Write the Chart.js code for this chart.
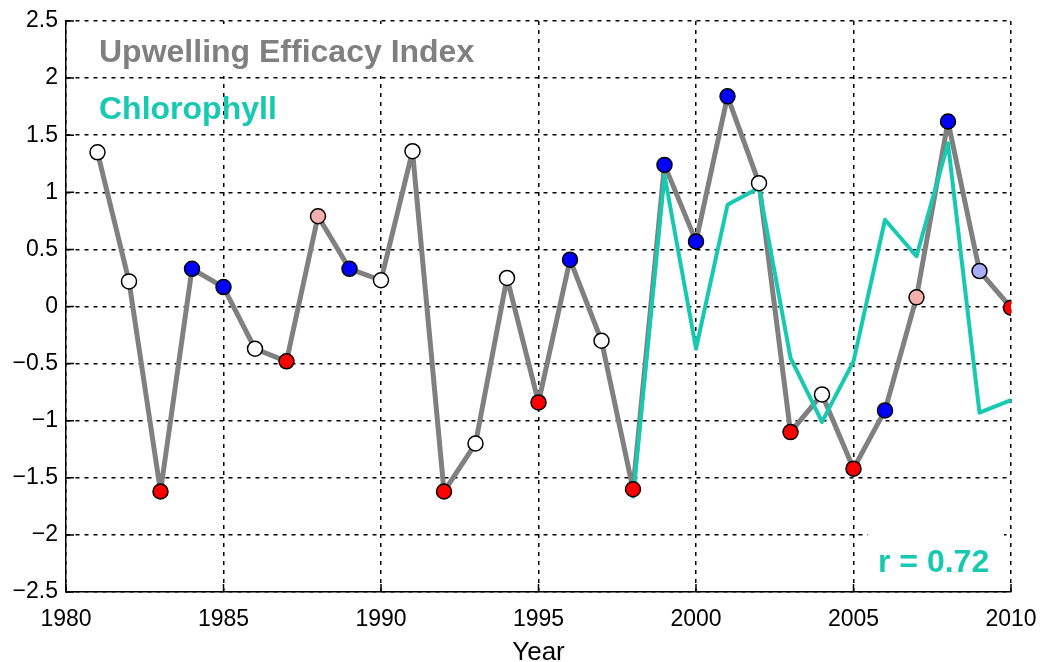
<!DOCTYPE html>
<html>
<head>
<meta charset="utf-8">
<script src="https://cdn.jsdelivr.net/npm/chart.js@4/dist/chart.umd.min.js"></script>
<style>
  html, body { margin: 0; padding: 0; background: #fff; }
  canvas { display: block; }
</style>
</head>
<body>
<canvas id="graphique" width="1040" height="662"></canvas>
<script>
// annees et series
const annees = [1981, 1982, 1983, 1984, 1985, 1986, 1987, 1988, 1989, 1990,
  1991, 1992, 1993, 1994, 1995, 1996, 1997, 1998, 1999, 2000,
  2001, 2002, 2003, 2004, 2005, 2006, 2007, 2008, 2009, 2010];
const indiceUpwelling = [1.35, 0.22, -1.62, 0.33, 0.17, -0.37, -0.48, 0.79, 0.33, 0.23,
  1.36, -1.62, -1.20, 0.25, -0.84, 0.41, -0.30, -1.60, 1.24, 0.57,
  1.84, 1.08, -1.10, -0.77, -1.42, -0.91, 0.08, 1.62, 0.31, -0.01];
// classe de chaque annee : b = bleu, r = rouge, p = rose, lb = bleu clair, w = blanc
const classes = ["w", "w", "r", "b", "b", "w", "r", "p", "b", "w",
  "w", "r", "w", "w", "r", "b", "w", "r", "b", "b",
  "b", "w", "r", "w", "r", "b", "p", "b", "lb", "r"];
const anneesChl = [1998, 1999, 2000, 2001, 2002, 2003, 2004, 2005, 2006, 2007, 2008, 2009, 2010];
const chlorophylle = [-1.68, 1.15, -0.37, 0.89, 1.04, -0.45, -1.01, -0.48, 0.76, 0.44, 1.43, -0.93, -0.82];
const ticksX = [1980, 1985, 1990, 1995, 2000, 2005, 2010];
const ticksY = [-2.5, -2, -1.5, -1, -0.5, 0, 0.5, 1, 1.5, 2, 2.5];

const couleurs = { b: "#0000ff", r: "#ff0000", p: "#f7aeae", lb: "#a9adf5", w: "#ffffff" };
const GRIS = "#808080";
const TURQUOISE = "#17c9b0";
const POLICE = "'Liberation Sans', Arial, Helvetica, sans-serif";

const pointsUEI = annees.map((a, i) => ({ x: a, y: indiceUpwelling[i] }));
const pointsChl = anneesChl.map((a, i) => ({ x: a, y: chlorophylle[i] }));

// textes dans le cadre (cases blanches, graduations internes, libelles)
const annotations = {
  id: "annotations",
  beforeDatasetsDraw(chart) {
    const ctx = chart.ctx;
    const { x, y } = chart.scales;
    ctx.save();
    ctx.fillStyle = "#fff";
    ctx.fillRect(92, 24, 392, 52);
    ctx.fillRect(868, 533, 136, 52);
    // petites graduations vers l'interieur
    ctx.strokeStyle = "#000";
    ctx.lineWidth = 1.5;
    ctx.beginPath();
    ticksX.forEach((v) => {
      const px = x.getPixelForValue(v);
      ctx.moveTo(px, y.bottom);
      ctx.lineTo(px, y.bottom - 8);
    });
    ticksY.forEach((v) => {
      const py = y.getPixelForValue(v);
      ctx.moveTo(x.left, py);
      ctx.lineTo(x.left + 8, py);
    });
    ctx.stroke();
    ctx.restore();
  },
  afterDraw(chart) {
    const ctx = chart.ctx;
    ctx.save();
    ctx.textBaseline = "alphabetic";
    ctx.textAlign = "left";
    ctx.font = "bold 32px " + POLICE;
    ctx.fillStyle = GRIS;
    ctx.fillText("Upwelling Efficacy Index", 99, 62);
    ctx.fillStyle = TURQUOISE;
    ctx.fillText("Chlorophyll", 99, 119);
    ctx.fillText("r = 0.72", 878, 572);
    ctx.restore();
  },
};

const ctxGraph = document.getElementById("graphique").getContext("2d");
new Chart(ctxGraph, {
  type: "line",
  data: {
    datasets: [
      {
        label: "UEI points",
        data: pointsUEI,
        showLine: false,
        pointRadius: 7.5,
        pointHoverRadius: 7.5,
        pointBackgroundColor: classes.map((c) => couleurs[c]),
        pointBorderColor: "#000",
        pointBorderWidth: 1.5,
        order: 0,
      },
      {
        label: "Chlorophyll",
        data: pointsChl,
        borderColor: TURQUOISE,
        borderWidth: 4,
        borderJoinStyle: "round",
        pointRadius: 0,
        tension: 0,
        order: 1,
      },
      {
        label: "Upwelling Efficacy Index",
        data: pointsUEI,
        borderColor: GRIS,
        borderWidth: 5,
        borderJoinStyle: "round",
        pointRadius: 0,
        tension: 0,
        order: 2,
      },
    ],
  },
  options: {
    responsive: false,
    animation: false,
    layout: { padding: { top: 21, right: 29, left: 0, bottom: 0 } },
    plugins: {
      legend: { display: false },
      tooltip: { enabled: false },
    },
    scales: {
      x: {
        type: "linear",
        min: 1980,
        max: 2010,
        afterFit: (s) => {
          s.height = 70;
          s.paddingLeft = 0;
          s.paddingRight = 0;
        },
        afterBuildTicks: (s) => { s.ticks = ticksX.map((v) => ({ value: v })); },
        ticks: {
          color: "#000",
          font: { family: POLICE, size: 23 },
          padding: 14,
          maxRotation: 0,
          callback: (v) => String(v),
        },
        grid: {
          color: "#000",
          lineWidth: 1.5,
          drawTicks: false,
        },
        border: { display: true, color: "#000", width: 1.5, dash: [4, 5] },
        title: {
          display: true,
          text: "Year",
          color: "#000",
          font: { family: POLICE, size: 26 },
          padding: { top: 10, bottom: -6 },
        },
      },
      y: {
        min: -2.5,
        max: 2.5,
        afterFit: (s) => {
          s.width = 66;
          s.paddingTop = 0;
          s.paddingBottom = 0;
        },
        afterBuildTicks: (s) => { s.ticks = ticksY.map((v) => ({ value: v })); },
        ticks: {
          color: "#000",
          font: { family: POLICE, size: 23 },
          padding: 8,
          callback: (v) => String(v).replace("-", "\u2212"),
        },
        grid: {
          color: "#000",
          lineWidth: 1.5,
          drawTicks: false,
        },
        border: { display: true, color: "#000", width: 1.5, dash: [4, 5] },
      },
    },
  },
  plugins: [annotations],
});
</script>
</body>
</html>
